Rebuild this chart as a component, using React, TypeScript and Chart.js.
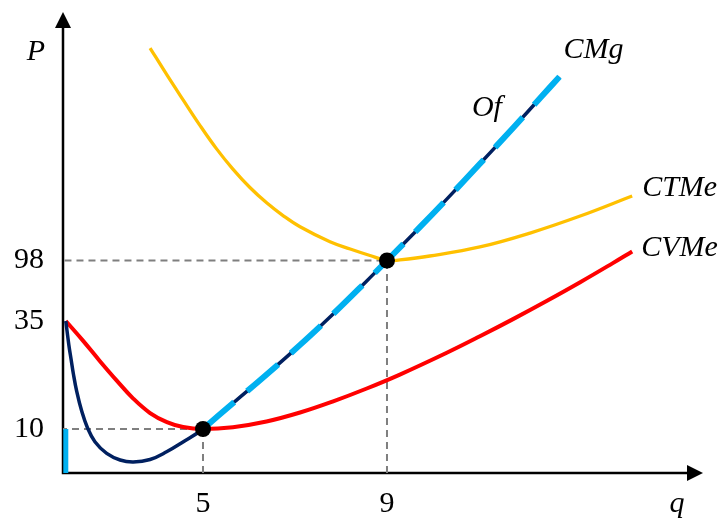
import React, { useEffect, useRef } from 'react';
import { Chart, registerables, LinearScale } from 'chart.js';

// ---- data: quantity (q) and price/cost (P) readings for each curve ----

// Marginal cost CMg
const cmgQ = [0.1, 0.21, 0.29, 0.37, 0.49, 0.67, 0.87, 1.14, 1.56, 2.04, 2.51, 3.11, 3.7, 4.3, 5, 5.65, 6.39, 7.11, 7.83, 8.56, 9, 9.72, 10.3, 11.02, 11.75, 12.35, 12.75];
const cmgP = [35, 29.4, 26.1, 22.8, 18.7, 14.1, 10.35, 7.1, 4.45, 2.95, 2.5, 3.07, 4.82, 7.11, 10, 15.97, 22.69, 29.47, 42.39, 76.76, 98, 133.0, 161.9, 198.7, 236.6, 268.3, 289.3];

// Average variable cost CVMe
const cvmeQ = [0.1, 0.72, 1.32, 1.92, 2.5, 3.11, 3.71, 4.29, 5, 5.65, 6.38, 7.11, 7.83, 8.56, 9.28, 10.3, 11.02, 11.74, 12.48, 13.2, 13.91, 14.33];
const cvmeP = [35, 30.4, 25.7, 21.2, 17.1, 13.7, 11.6, 10.46, 10, 10.42, 11.74, 13.82, 16.41, 19.38, 22.6, 27.65, 31.47, 36.98, 56.1, 75.4, 95.3, 107.4];

// Average total cost CTMe
const ctmeQ = [3.11, 3.7, 4.29, 4.89, 5.3, 5.65, 6.02, 6.39, 6.74, 7.11, 7.76, 8.2, 8.63, 9, 9.28, 9.93, 11.02, 12.11, 13.2, 14.33];
const ctmeP = [319.3, 291.8, 265.3, 238.8, 214, 193.2, 174, 157.8, 144.8, 133.1, 117.5, 110, 103.2, 98, 98.7, 102.7, 112.1, 126.6, 144.3, 165.2];

// Supply Of: shutdown segment at q = 0, then CMg from the shutdown point up
const ofLowQ = [0.1, 0.1];
const ofLowP = [0, 10];
const ofStartQ = 5;

// Key points: shutdown (min CVMe) and break-even (min CTMe)
const keyQ = [5, 9];
const keyP = [10, 98];

// Axis ticks
const xTicks = [5, 9];
const yTicks = [10, 35, 98];
const xMax = 15.87;
const yMax = 356.8;

// ---- piecewise-linear (schematic) scales ----
type Knot = [number, number];
const xKnots: Knot[] = [[0, 0], [5, 140], [9, 324]];
const yKnots: Knot[] = [[0, 0], [10, 44], [35, 152], [98, 212.5]];

function piecewise(knots: Knot[]) {
  const n = knots.length;
  const fwd = (v: number) => {
    let i = 1;
    while (i < n - 1 && v > knots[i][0]) i++;
    const a = knots[i - 1], b = knots[i];
    return a[1] + (v - a[0]) * (b[1] - a[1]) / (b[0] - a[0]);
  };
  const inv = (u: number) => {
    let i = 1;
    while (i < n - 1 && u > knots[i][1]) i++;
    const a = knots[i - 1], b = knots[i];
    return a[0] + (u - a[1]) * (b[0] - a[0]) / (b[1] - a[1]);
  };
  return { fwd, inv };
}

function makeScale(scaleId: string, knots: Knot[]) {
  const { fwd, inv } = piecewise(knots);
  class PiecewiseScale extends LinearScale {
    static id = scaleId;
    static defaults = LinearScale.defaults;
    getPixelForValue(value: number) {
      const a = fwd(this.min), b = fwd(this.max);
      return this.getPixelForDecimal((fwd(value) - a) / (b - a));
    }
    getValueForPixel(pixel: number) {
      const a = fwd(this.min), b = fwd(this.max);
      return inv(a + this.getDecimalForPixel(pixel) * (b - a));
    }
  }
  return PiecewiseScale;
}

const QuantityScale = makeScale('quantity', xKnots);
const PriceScale = makeScale('price', yKnots);

Chart.register(...registerables, QuantityScale as any, PriceScale as any);

const zip = (qs: number[], ps: number[]) => qs.map((q, i) => ({ x: q, y: ps[i] }));

const SERIF = '"Liberation Serif", "Times New Roman", serif';
const NAVY = '#002060';
const CYAN = '#00B0F0';
const RED = '#FF0000';
const GOLD = '#FFC000';
const GREY = '#7F7F7F';

const axesPlugin = {
  id: 'econAxes',
  beforeDatasetsDraw(chart: any) {
    const { ctx, chartArea } = chart;
    const { left, right, top, bottom } = chartArea;
    ctx.save();
    ctx.strokeStyle = '#000';
    ctx.lineWidth = 2.5;
    ctx.beginPath();
    ctx.moveTo(left, bottom + 1.25);
    ctx.lineTo(left, top + 14);
    ctx.moveTo(left - 1.25, bottom);
    ctx.lineTo(right - 14, bottom);
    ctx.stroke();
    ctx.fillStyle = '#000';
    ctx.beginPath();
    ctx.moveTo(left, top);
    ctx.lineTo(left - 8, top + 16);
    ctx.lineTo(left + 8, top + 16);
    ctx.closePath();
    ctx.fill();
    ctx.beginPath();
    ctx.moveTo(right, bottom);
    ctx.lineTo(right - 16, bottom - 8);
    ctx.lineTo(right - 16, bottom + 8);
    ctx.closePath();
    ctx.fill();
    ctx.restore();
  },
  afterDatasetsDraw(chart: any) {
    const { ctx, chartArea, scales } = chart;
    const { left, right, top, bottom } = chartArea;
    const px = (q: number) => scales.x.getPixelForValue(q);
    const py = (p: number) => scales.y.getPixelForValue(p);
    ctx.save();
    ctx.fillStyle = '#000';
    ctx.font = `italic 30px ${SERIF}`;
    ctx.textBaseline = 'alphabetic';
    ctx.textAlign = 'center';
    ctx.fillText('P', left - 27, top + 48);
    ctx.fillText('q', right - 26, bottom + 39);
    ctx.textAlign = 'left';
    const lastCmg = cmgQ.length - 1;
    ctx.fillText('CMg', px(cmgQ[lastCmg]) + 4, py(cmgP[lastCmg]) - 19);
    const ofAt = cmgQ.indexOf(11.02);
    ctx.fillText('Of', px(cmgQ[ofAt]) - 8, py(cmgP[ofAt]) - 48);
    const lastCt = ctmeQ.length - 1;
    ctx.fillText('CTMe', px(ctmeQ[lastCt]) + 10, py(ctmeP[lastCt]));
    const lastCv = cvmeQ.length - 1;
    ctx.fillText('CVMe', px(cvmeQ[lastCv]) + 9, py(cvmeP[lastCv]) + 5);
    ctx.restore();
  },
};

const noEdgePadding = (s: any) => {
  s.paddingTop = 0;
  s.paddingBottom = 0;
  s.paddingLeft = 0;
  s.paddingRight = 0;
};

export default function App() {
  const canvasRef = useRef<HTMLCanvasElement | null>(null);

  useEffect(() => {
    const canvas = canvasRef.current;
    if (!canvas) return;

    const ofIdx = cmgQ.indexOf(ofStartQ);
    const curve = { pointRadius: 0, fill: false, tension: 0.4, borderCapStyle: 'butt' as const };
    const guide = { pointRadius: 0, fill: false, borderColor: GREY, borderWidth: 2, borderDash: [7, 5], tension: 0 };

    const chart = new Chart(canvas, {
      type: 'line',
      data: {
        datasets: [
          { label: 'points', data: zip(keyQ, keyP), showLine: false, pointRadius: 8, pointBackgroundColor: '#000', pointBorderWidth: 0 },
          { label: 'Of', data: zip(cmgQ.slice(ofIdx), cmgP.slice(ofIdx)), borderColor: CYAN, borderWidth: 6, borderDash: [41, 17], ...curve },
          { label: 'Of (q = 0)', data: zip(ofLowQ, ofLowP), borderColor: CYAN, borderWidth: 5, pointRadius: 0, tension: 0, borderCapStyle: 'butt' },
          { label: 'CMg', data: zip(cmgQ, cmgP), borderColor: NAVY, borderWidth: 3.5, ...curve },
          { label: 'CTMe', data: zip(ctmeQ, ctmeP), borderColor: GOLD, borderWidth: 3.3, ...curve },
          { label: 'CVMe', data: zip(cvmeQ, cvmeP), borderColor: RED, borderWidth: 4, ...curve },
          { label: 'guide 5', data: [{ x: keyQ[0], y: 0 }, { x: keyQ[0], y: keyP[0] }, { x: 0, y: keyP[0] }], ...guide },
          { label: 'guide 9', data: [{ x: keyQ[1], y: 0 }, { x: keyQ[1], y: keyP[1] }, { x: 0, y: keyP[1] }], ...guide },
        ] as any,
      },
      options: {
        animation: false,
        responsive: false,
        devicePixelRatio: 1,
        events: [],
        layout: { padding: { top: 12, right: 20, left: 0, bottom: 0 } },
        plugins: {
          legend: { display: false },
          tooltip: { enabled: false },
          title: { display: false },
        },
        scales: {
          x: {
            type: 'quantity' as any,
            position: 'bottom',
            min: 0,
            max: xMax,
            bounds: 'data',
            grid: { display: false, drawTicks: false },
            border: { display: false },
            afterFit: (s: any) => { s.height = 46; noEdgePadding(s); },
            afterBuildTicks: (s: any) => { s.ticks = xTicks.map((v) => ({ value: v })); },
            ticks: {
              autoSkip: false,
              maxRotation: 0,
              padding: 13,
              color: '#000',
              font: { family: SERIF, size: 30 },
              callback: (v: any) => String(v),
            },
          },
          y: {
            type: 'price' as any,
            position: 'left',
            min: 0,
            max: yMax,
            bounds: 'data',
            grid: { display: false, drawTicks: false },
            border: { display: false },
            afterFit: (s: any) => { s.width = 63; noEdgePadding(s); },
            afterBuildTicks: (s: any) => { s.ticks = yTicks.map((v) => ({ value: v })); },
            ticks: {
              autoSkip: false,
              padding: 19,
              color: '#000',
              font: { family: SERIF, size: 30 },
              callback: (v: any) => String(v),
            },
          },
        } as any,
      },
      plugins: [axesPlugin],
    });

    return () => chart.destroy();
  }, []);

  return (
    <div style={{ position: 'fixed', left: 0, top: 0, width: 723, height: 519, background: '#fff' }}>
      <canvas ref={canvasRef} width={723} height={519} style={{ display: 'block' }} />
    </div>
  );
}
